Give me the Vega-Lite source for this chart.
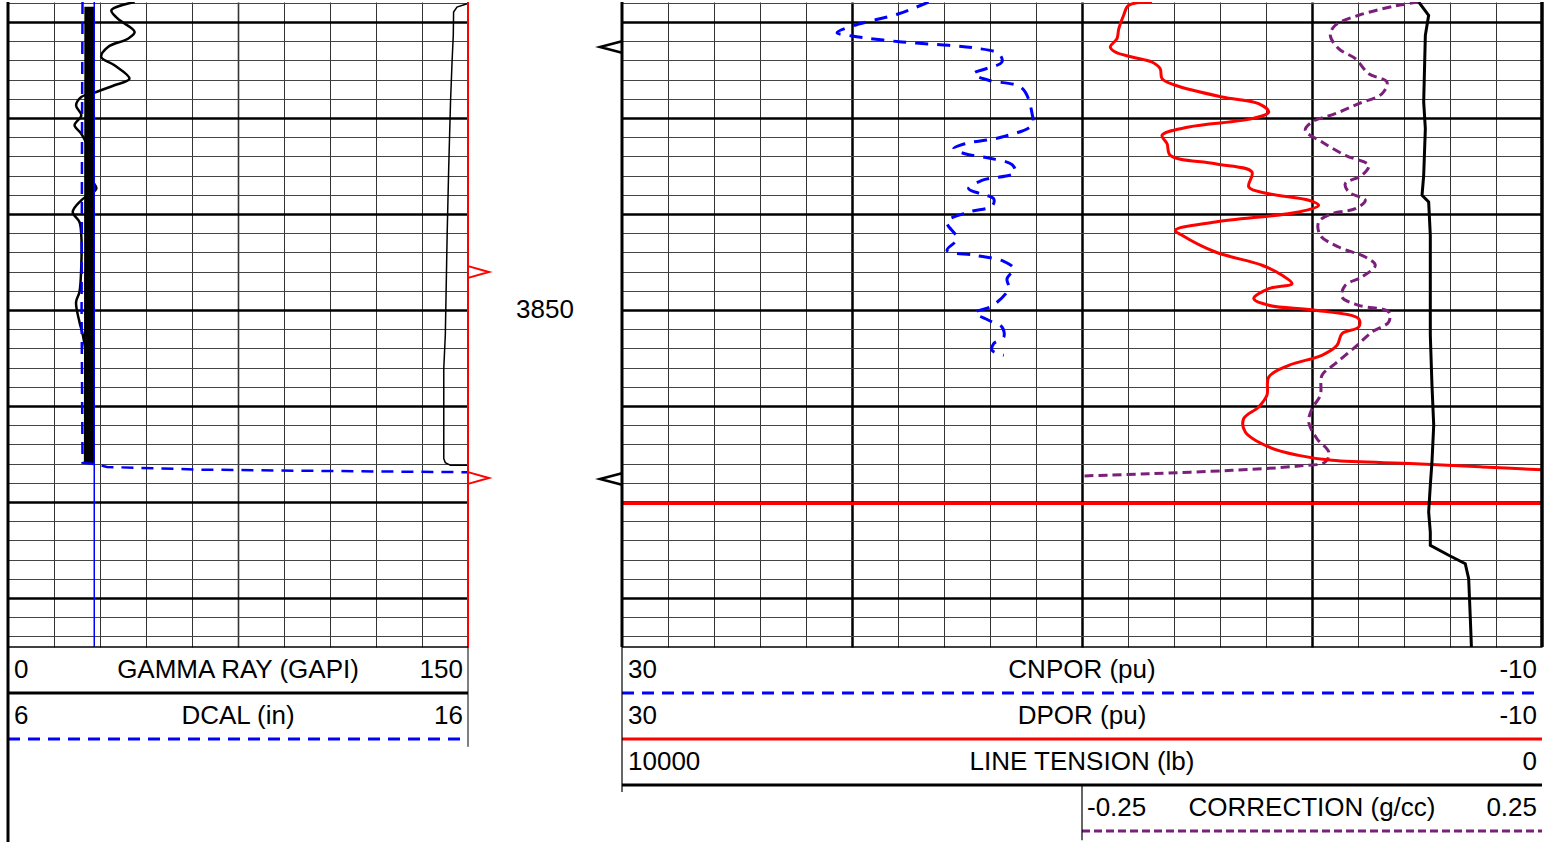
{
  "$schema": "https://vega.github.io/schema/vega-lite/v6.json",
  "padding": {"left": 6, "top": 0, "right": 0, "bottom": 0},
  "background": "white",
  "spacing": 0,
  "columns": 3,
  "bounds": "flush",
  "config": {
    "view": {"stroke": null},
    "axis": {"minExtent": 0},
    "font": "Liberation Sans",
    "text": {"font": "Liberation Sans", "fontSize": 26, "color": "black"}
  },
  "datasets": {
    "gr": [
      {"depth": 3817.92, "gr": 41.3}, {"depth": 3818.78, "gr": 33.7}, {"depth": 3819.66, "gr": 35.8},
      {"depth": 3821.04, "gr": 41.3}, {"depth": 3821.74, "gr": 39.1}, {"depth": 3822.60, "gr": 32.6},
      {"depth": 3823.65, "gr": 30.4}, {"depth": 3824.51, "gr": 34.7}, {"depth": 3825.91, "gr": 39.6},
      {"depth": 3826.59, "gr": 34.7}, {"depth": 3827.29, "gr": 28.8}, {"depth": 3827.81, "gr": 23.9},
      {"depth": 3828.68, "gr": 22.2}, {"depth": 3829.72, "gr": 23.9}, {"depth": 3830.76, "gr": 21.7},
      {"depth": 3831.64, "gr": 23.9}, {"depth": 3833.00, "gr": 26.0}, {"depth": 3834.58, "gr": 26.5},
      {"depth": 3836.50, "gr": 27.5}, {"depth": 3837.36, "gr": 28.8}, {"depth": 3838.57, "gr": 23.9},
      {"depth": 3839.79, "gr": 21.1}, {"depth": 3840.83, "gr": 23.3}, {"depth": 3842.22, "gr": 23.9},
      {"depth": 3845.34, "gr": 23.9}, {"depth": 3848.13, "gr": 23.3}, {"depth": 3849.17, "gr": 22.2},
      {"depth": 3851.25, "gr": 23.3}, {"depth": 3852.60, "gr": 24.4}, {"depth": 3855.00, "gr": 25.5},
      {"depth": 3859.58, "gr": 25.5}, {"depth": 3863.00, "gr": 26.0}, {"depth": 3866.04, "gr": 26.5}
    ],
    "gr2": [
      {"depth": 3818.10, "gr": 149.7}, {"depth": 3818.44, "gr": 146.4}, {"depth": 3818.96, "gr": 145.3},
      {"depth": 3821.39, "gr": 145.2}, {"depth": 3824.17, "gr": 144.8}, {"depth": 3828.33, "gr": 144.3},
      {"depth": 3835.28, "gr": 143.7}, {"depth": 3842.22, "gr": 143.2}, {"depth": 3852.64, "gr": 142.6},
      {"depth": 3856.11, "gr": 142.1}, {"depth": 3865.49, "gr": 142.1}, {"depth": 3865.90, "gr": 142.6},
      {"depth": 3866.18, "gr": 144.3}, {"depth": 3866.18, "gr": 149.8}
    ],
    "dcal": [
      {"depth": 3817.92, "dcal": 7.62}, {"depth": 3830.00, "dcal": 7.61}, {"depth": 3850.00, "dcal": 7.60},
      {"depth": 3865.90, "dcal": 7.62}, {"depth": 3866.05, "dcal": 7.90}, {"depth": 3866.35, "dcal": 8.15},
      {"depth": 3866.63, "dcal": 10.2}, {"depth": 3866.74, "dcal": 12.3}, {"depth": 3866.90, "dcal": 16.0}
    ],
    "fill": [
      {"depth": 3818.40, "dcal": 7.66}, {"depth": 3866.00, "dcal": 7.65}
    ],
    "cnpor": [
      {"depth": 3817.92, "v": 16.67}, {"depth": 3819.14, "v": 17.97}, {"depth": 3820.42, "v": 20.0},
      {"depth": 3821.11, "v": 20.65}, {"depth": 3821.46, "v": 20.0}, {"depth": 3822.08, "v": 17.83},
      {"depth": 3822.43, "v": 15.80}, {"depth": 3822.71, "v": 14.65}, {"depth": 3823.30, "v": 13.62},
      {"depth": 3824.17, "v": 13.48}, {"depth": 3825.39, "v": 14.71}, {"depth": 3826.07, "v": 14.06},
      {"depth": 3826.88, "v": 12.61}, {"depth": 3829.55, "v": 12.17}, {"depth": 3830.73, "v": 12.17},
      {"depth": 3831.98, "v": 13.48}, {"depth": 3832.68, "v": 15.09}, {"depth": 3833.20, "v": 15.58},
      {"depth": 3833.72, "v": 15.09}, {"depth": 3834.17, "v": 14.06}, {"depth": 3834.86, "v": 13.04},
      {"depth": 3835.70, "v": 12.91}, {"depth": 3836.49, "v": 14.35}, {"depth": 3837.36, "v": 14.93},
      {"depth": 3837.89, "v": 14.43}, {"depth": 3838.41, "v": 13.84}, {"depth": 3839.17, "v": 13.91},
      {"depth": 3839.79, "v": 14.93}, {"depth": 3840.83, "v": 15.87}, {"depth": 3842.57, "v": 15.43},
      {"depth": 3843.78, "v": 15.87}, {"depth": 3844.30, "v": 14.65}, {"depth": 3844.93, "v": 13.40},
      {"depth": 3845.70, "v": 12.97}, {"depth": 3846.74, "v": 13.26}, {"depth": 3847.78, "v": 13.19},
      {"depth": 3849.58, "v": 13.91}, {"depth": 3850.28, "v": 14.65}, {"depth": 3851.07, "v": 14.06},
      {"depth": 3851.77, "v": 13.48}, {"depth": 3852.81, "v": 13.40}, {"depth": 3853.51, "v": 13.84},
      {"depth": 3854.20, "v": 13.91}, {"depth": 3854.72, "v": 13.40}
    ],
    "dpor": [
      {"run": 1, "depth": 3817.92, "v": 6.96}, {"run": 1, "depth": 3818.26, "v": 7.97}, {"run": 1, "depth": 3819.30, "v": 8.19},
      {"run": 1, "depth": 3820.70, "v": 8.40}, {"run": 1, "depth": 3821.74, "v": 8.48}, {"run": 1, "depth": 3822.60, "v": 8.77},
      {"run": 1, "depth": 3823.13, "v": 8.55}, {"run": 1, "depth": 3823.65, "v": 7.83}, {"run": 1, "depth": 3824.17, "v": 6.96},
      {"run": 1, "depth": 3824.86, "v": 6.60}, {"run": 1, "depth": 3825.90, "v": 6.52}, {"run": 1, "depth": 3826.59, "v": 5.94},
      {"run": 1, "depth": 3827.81, "v": 3.91}, {"run": 1, "depth": 3828.51, "v": 2.32}, {"run": 1, "depth": 3829.38, "v": 1.88},
      {"run": 1, "depth": 3830.07, "v": 2.61}, {"run": 1, "depth": 3830.94, "v": 5.36}, {"run": 1, "depth": 3831.80, "v": 6.52},
      {"run": 1, "depth": 3832.68, "v": 6.30}, {"run": 1, "depth": 3833.89, "v": 6.16}, {"run": 1, "depth": 3834.76, "v": 4.20},
      {"run": 1, "depth": 3835.63, "v": 2.61}, {"run": 1, "depth": 3837.19, "v": 2.75}, {"run": 1, "depth": 3837.89, "v": 1.88},
      {"run": 1, "depth": 3838.57, "v": 0.14}, {"run": 1, "depth": 3839.09, "v": -0.29}, {"run": 1, "depth": 3839.79, "v": 0.58},
      {"run": 1, "depth": 3840.83, "v": 4.20}, {"run": 1, "depth": 3841.70, "v": 5.94}, {"run": 1, "depth": 3842.22, "v": 5.65},
      {"run": 1, "depth": 3843.96, "v": 4.20}, {"run": 1, "depth": 3845.34, "v": 2.17}, {"run": 1, "depth": 3846.39, "v": 1.30},
      {"run": 1, "depth": 3847.26, "v": 0.87}, {"run": 1, "depth": 3847.78, "v": 1.88}, {"run": 1, "depth": 3848.82, "v": 2.53},
      {"run": 1, "depth": 3849.51, "v": 1.88}, {"run": 1, "depth": 3850.03, "v": -0.14}, {"run": 1, "depth": 3850.91, "v": -2.03},
      {"run": 1, "depth": 3851.77, "v": -2.03}, {"run": 1, "depth": 3852.47, "v": -1.30}, {"run": 1, "depth": 3853.68, "v": -1.09},
      {"run": 1, "depth": 3854.72, "v": -0.43}, {"run": 1, "depth": 3855.76, "v": 1.01}, {"run": 1, "depth": 3856.98, "v": 1.88},
      {"run": 1, "depth": 3858.89, "v": 1.96}, {"run": 1, "depth": 3860.10, "v": 2.32}, {"run": 1, "depth": 3861.32, "v": 2.97},
      {"run": 1, "depth": 3862.71, "v": 2.90}, {"run": 1, "depth": 3864.27, "v": 1.88}, {"run": 1, "depth": 3865.14, "v": 0.58},
      {"run": 1, "depth": 3865.66, "v": -0.87}, {"run": 1, "depth": 3866.01, "v": -4.49}, {"run": 1, "depth": 3866.35, "v": -7.39},
      {"run": 1, "depth": 3866.64, "v": -10.0},
      {"run": 2, "depth": 3870.15, "v": -10.0}, {"run": 2, "depth": 3870.15, "v": 30.0}
    ],
    "corr": [
      {"run": 1, "depth": 3817.92, "c": 0.116}, {"run": 1, "depth": 3818.33, "c": 0.0905}, {"run": 1, "depth": 3819.30, "c": 0.0508},
      {"run": 1, "depth": 3820.34, "c": 0.0253}, {"run": 1, "depth": 3821.39, "c": 0.0199}, {"run": 1, "depth": 3822.78, "c": 0.029},
      {"run": 1, "depth": 3823.82, "c": 0.0471}, {"run": 1, "depth": 3825.39, "c": 0.0616}, {"run": 1, "depth": 3826.25, "c": 0.0815},
      {"run": 1, "depth": 3827.47, "c": 0.0761}, {"run": 1, "depth": 3828.51, "c": 0.0508}, {"run": 1, "depth": 3829.55, "c": 0.0253},
      {"run": 1, "depth": 3830.42, "c": 0.0}, {"run": 1, "depth": 3831.28, "c": -0.0073}, {"run": 1, "depth": 3832.50, "c": 0.0109},
      {"run": 1, "depth": 3833.89, "c": 0.0362}, {"run": 1, "depth": 3834.93, "c": 0.0616}, {"run": 1, "depth": 3835.97, "c": 0.0543},
      {"run": 1, "depth": 3836.84, "c": 0.0362}, {"run": 1, "depth": 3837.71, "c": 0.0399}, {"run": 1, "depth": 3838.57, "c": 0.0579},
      {"run": 1, "depth": 3839.45, "c": 0.0471}, {"run": 1, "depth": 3839.97, "c": 0.0217}, {"run": 1, "depth": 3840.83, "c": 0.0073},
      {"run": 1, "depth": 3842.22, "c": 0.009}, {"run": 1, "depth": 3843.44, "c": 0.029}, {"run": 1, "depth": 3844.48, "c": 0.0579},
      {"run": 1, "depth": 3845.34, "c": 0.0688}, {"run": 1, "depth": 3846.56, "c": 0.0543}, {"run": 1, "depth": 3847.43, "c": 0.0362},
      {"run": 1, "depth": 3848.65, "c": 0.0326}, {"run": 1, "depth": 3849.51, "c": 0.0508}, {"run": 1, "depth": 3850.21, "c": 0.0834},
      {"run": 1, "depth": 3851.25, "c": 0.0834}, {"run": 1, "depth": 3852.29, "c": 0.0652}, {"run": 1, "depth": 3853.85, "c": 0.0471},
      {"run": 1, "depth": 3855.59, "c": 0.0253}, {"run": 1, "depth": 3856.80, "c": 0.0109}, {"run": 1, "depth": 3858.89, "c": 0.009},
      {"run": 1, "depth": 3860.28, "c": 0.0}, {"run": 1, "depth": 3861.67, "c": -0.0036}, {"run": 1, "depth": 3863.41, "c": 0.0054},
      {"run": 1, "depth": 3864.79, "c": 0.0182}, {"run": 1, "depth": 3865.83, "c": 0.0145}, {"run": 1, "depth": 3866.25, "c": -0.0145},
      {"run": 1, "depth": 3866.70, "c": -0.087}, {"run": 1, "depth": 3867.05, "c": -0.1775}, {"run": 1, "depth": 3867.29, "c": -0.25},
      {"run": 2, "depth": 3870.15, "c": -0.25}, {"run": 2, "depth": 3870.15, "c": 0.07}
    ],
    "tension": [
      {"depth": 3817.92, "t": 1340}, {"depth": 3819.30, "t": 1232}, {"depth": 3821.39, "t": 1268},
      {"depth": 3828.33, "t": 1286}, {"depth": 3831.11, "t": 1268}, {"depth": 3835.97, "t": 1286},
      {"depth": 3838.05, "t": 1304}, {"depth": 3838.75, "t": 1232}, {"depth": 3842.22, "t": 1214},
      {"depth": 3852.64, "t": 1214}, {"depth": 3857.84, "t": 1196}, {"depth": 3862.01, "t": 1177},
      {"depth": 3865.83, "t": 1196}, {"depth": 3868.26, "t": 1214}, {"depth": 3871.04, "t": 1232},
      {"depth": 3873.13, "t": 1214}, {"depth": 3874.51, "t": 1214}, {"depth": 3875.55, "t": 1014},
      {"depth": 3876.43, "t": 834}, {"depth": 3877.99, "t": 797}, {"depth": 3882.16, "t": 779},
      {"depth": 3884.93, "t": 768}, {"depth": 3885.10, "t": 768}
    ],
    "redmarks": [{"depth": 3846.04}, {"depth": 3867.5}],
    "blackmarks": [{"depth": 3822.6}, {"depth": 3867.6}],
    "depthlabels": [{"depth": 3850, "label": "3850"}],
    "leftHeader": [
      {"row": 1, "curve": "GR", "lo": "0", "name": "GAMMA RAY (GAPI)", "hi": "150"},
      {"row": 2, "curve": "DCAL", "lo": "6", "name": "DCAL (in)", "hi": "16"}
    ],
    "rightHeader": [
      {"row": 1, "curve": "CNPOR", "lo": "30", "name": "CNPOR (pu)", "hi": "-10"},
      {"row": 2, "curve": "DPOR", "lo": "30", "name": "DPOR (pu)", "hi": "-10"},
      {"row": 3, "curve": "TENSION", "lo": "10000", "name": "LINE TENSION (lb)", "hi": "0"}
    ],
    "corrHeader": [
      {"row": 4, "curve": "CORR", "lo": "-0.25", "name": "CORRECTION (g/cc)", "hi": "0.25"}
    ]
  },
  "concat": [
    {
      "width": 460,
      "height": 645,
      "resolve": {"scale": {"x": "independent"}},
      "layer": [
        {
          "data": {"name": "gr"},
          "mark": {"type": "line", "color": "black", "strokeWidth": 2.5, "clip": true, "interpolate": "catmull-rom"},
          "encoding": {
            "x": {"field": "gr", "type": "quantitative", "scale": {"domain": [0, 150], "nice": false, "zero": false},
              "axis": {"values": [0, 15, 30, 45, 60, 75, 90, 105, 120, 135, 150], "grid": true, "labels": false, "ticks": false, "domain": false, "title": null,
                "gridColor": "#333333", "gridWidth": {"condition": {"test": "datum.value === 75", "value": 1.6}, "value": 1}}},
            "y": {"field": "depth", "type": "quantitative", "scale": {"domain": [3817.917, 3885.104], "nice": false, "zero": false, "reverse": true},
              "axis": {"values": [3818, 3820, 3822, 3824, 3826, 3828, 3830, 3832, 3834, 3836, 3838, 3840, 3842, 3844, 3846, 3848, 3850, 3852, 3854, 3856, 3858, 3860, 3862, 3864, 3866, 3868, 3870, 3872, 3874, 3876, 3878, 3880, 3882, 3884],
                "grid": true, "labels": false, "ticks": false, "domain": false, "title": null,
                "gridColor": {"condition": {"test": "datum.value % 10 === 0", "value": "#000000"}, "value": "#444444"},
                "gridWidth": {"condition": {"test": "datum.value % 10 === 0", "value": 2.5}, "value": 1}}},
            "order": {"value": null}
          }
        },
        {
          "data": {"name": "fill"},
          "mark": {"type": "area", "color": "black", "orient": "horizontal", "clip": true},
          "encoding": {
            "x": {"field": "dcal", "type": "quantitative", "scale": {"domain": [6, 16], "nice": false, "zero": false}, "axis": null},
            "x2": {"datum": 7.875},
            "y": {"field": "depth", "type": "quantitative", "scale": {"domain": [3817.917, 3885.104], "nice": false, "zero": false, "reverse": true},
              "axis": {"values": [3818, 3820, 3822, 3824, 3826, 3828, 3830, 3832, 3834, 3836, 3838, 3840, 3842, 3844, 3846, 3848, 3850, 3852, 3854, 3856, 3858, 3860, 3862, 3864, 3866, 3868, 3870, 3872, 3874, 3876, 3878, 3880, 3882, 3884],
                "grid": true, "labels": false, "ticks": false, "domain": false, "title": null,
                "gridColor": {"condition": {"test": "datum.value % 10 === 0", "value": "#000000"}, "value": "#444444"},
                "gridWidth": {"condition": {"test": "datum.value % 10 === 0", "value": 2.5}, "value": 1}}}
          }
        },
        {
          "data": {"values": [{}]},
          "mark": {"type": "rule", "color": "#0000ff", "strokeWidth": 1.5},
          "encoding": {
            "x": {"datum": 7.875, "type": "quantitative", "scale": {"domain": [6, 16], "nice": false, "zero": false}, "axis": null}
          }
        },
        {
          "data": {"name": "dcal"},
          "mark": {"type": "line", "color": "#0000ff", "strokeWidth": 2.5, "strokeDash": [12, 8], "clip": true},
          "encoding": {
            "x": {"field": "dcal", "type": "quantitative", "scale": {"domain": [6, 16], "nice": false, "zero": false}, "axis": null},
            "y": {"field": "depth", "type": "quantitative", "scale": {"domain": [3817.917, 3885.104], "nice": false, "zero": false, "reverse": true},
              "axis": {"values": [3818, 3820, 3822, 3824, 3826, 3828, 3830, 3832, 3834, 3836, 3838, 3840, 3842, 3844, 3846, 3848, 3850, 3852, 3854, 3856, 3858, 3860, 3862, 3864, 3866, 3868, 3870, 3872, 3874, 3876, 3878, 3880, 3882, 3884],
                "grid": true, "labels": false, "ticks": false, "domain": false, "title": null,
                "gridColor": {"condition": {"test": "datum.value % 10 === 0", "value": "#000000"}, "value": "#444444"},
                "gridWidth": {"condition": {"test": "datum.value % 10 === 0", "value": 2.5}, "value": 1}}},
            "order": {"value": null}
          }
        },
        {
          "data": {"name": "gr2"},
          "mark": {"type": "line", "color": "black", "strokeWidth": 1.5, "clip": true},
          "encoding": {
            "x": {"field": "gr", "type": "quantitative", "scale": {"domain": [0, 150], "nice": false, "zero": false}, "axis": null},
            "y": {"field": "depth", "type": "quantitative", "scale": {"domain": [3817.917, 3885.104], "nice": false, "zero": false, "reverse": true},
              "axis": {"values": [3818, 3820, 3822, 3824, 3826, 3828, 3830, 3832, 3834, 3836, 3838, 3840, 3842, 3844, 3846, 3848, 3850, 3852, 3854, 3856, 3858, 3860, 3862, 3864, 3866, 3868, 3870, 3872, 3874, 3876, 3878, 3880, 3882, 3884],
                "grid": true, "labels": false, "ticks": false, "domain": false, "title": null,
                "gridColor": {"condition": {"test": "datum.value % 10 === 0", "value": "#000000"}, "value": "#444444"},
                "gridWidth": {"condition": {"test": "datum.value % 10 === 0", "value": 2.5}, "value": 1}}},
            "order": {"value": null}
          }
        },
        {
          "data": {"values": [{}]},
          "mark": {"type": "rule", "color": "black", "strokeWidth": 3},
          "encoding": {
            "x": {"datum": 0, "type": "quantitative", "scale": {"domain": [0, 150], "nice": false, "zero": false}, "axis": null}
          }
        },
        {
          "data": {"values": [{}]},
          "mark": {"type": "rule", "color": "#ff0000", "strokeWidth": 2},
          "encoding": {
            "x": {"datum": 150, "type": "quantitative", "scale": {"domain": [0, 150], "nice": false, "zero": false}, "axis": null}
          }
        }
      ]
    },
    {
      "width": 154,
      "height": 645,
      "layer": [
        {
          "data": {"name": "depthlabels"},
          "mark": {"type": "text", "fontSize": 26, "baseline": "middle", "align": "center"},
          "encoding": {
            "x": {"datum": 0.5, "type": "quantitative", "scale": {"domain": [0, 1], "nice": false, "zero": false}, "axis": null},
            "y": {"field": "depth", "type": "quantitative", "scale": {"domain": [3817.917, 3885.104], "nice": false, "zero": false, "reverse": true}, "axis": null},
            "text": {"field": "label"}
          }
        },
        {
          "data": {"name": "redmarks"},
          "mark": {"type": "point", "shape": "M0,-0.28L1,0L0,0.28", "size": 1764, "color": "#ff0000", "strokeWidth": 2, "filled": false, "opacity": 1},
          "encoding": {
            "x": {"datum": 0, "type": "quantitative", "scale": {"domain": [0, 1], "nice": false, "zero": false}, "axis": null},
            "y": {"field": "depth", "type": "quantitative", "scale": {"domain": [3817.917, 3885.104], "nice": false, "zero": false, "reverse": true}, "axis": null}
          }
        },
        {
          "data": {"name": "blackmarks"},
          "mark": {"type": "point", "shape": "M0,-0.26L-1,0L0,0.26", "size": 1936, "color": "black", "strokeWidth": 2.5, "filled": false, "opacity": 1},
          "encoding": {
            "x": {"datum": 1, "type": "quantitative", "scale": {"domain": [0, 1], "nice": false, "zero": false}, "axis": null},
            "y": {"field": "depth", "type": "quantitative", "scale": {"domain": [3817.917, 3885.104], "nice": false, "zero": false, "reverse": true}, "axis": null}
          }
        }
      ]
    },
    {
      "width": 920,
      "height": 645,
      "resolve": {"scale": {"x": "independent"}},
      "layer": [
        {
          "data": {"name": "cnpor"},
          "mark": {"type": "line", "color": "#0000ff", "strokeWidth": 3, "strokeDash": [13, 9], "clip": true, "interpolate": "catmull-rom"},
          "encoding": {
            "x": {"field": "v", "type": "quantitative", "scale": {"domain": [-10, 30], "nice": false, "zero": false, "reverse": true},
              "axis": {"values": [30, 28, 26, 24, 22, 20, 18, 16, 14, 12, 10, 8, 6, 4, 2, 0, -2, -4, -6, -8, -10], "grid": true, "labels": false, "ticks": false, "domain": false, "title": null,
                "gridColor": {"condition": {"test": "datum.value === 20 || datum.value === 10 || datum.value === 0", "value": "#000000"}, "value": "#333333"},
                "gridWidth": {"condition": {"test": "datum.value === 20 || datum.value === 10 || datum.value === 0", "value": 2.5}, "value": 1}}},
            "y": {"field": "depth", "type": "quantitative", "scale": {"domain": [3817.917, 3885.104], "nice": false, "zero": false, "reverse": true},
              "axis": {"values": [3818, 3820, 3822, 3824, 3826, 3828, 3830, 3832, 3834, 3836, 3838, 3840, 3842, 3844, 3846, 3848, 3850, 3852, 3854, 3856, 3858, 3860, 3862, 3864, 3866, 3868, 3870, 3872, 3874, 3876, 3878, 3880, 3882, 3884],
                "grid": true, "labels": false, "ticks": false, "domain": false, "title": null,
                "gridColor": {"condition": {"test": "datum.value % 10 === 0", "value": "#000000"}, "value": "#444444"},
                "gridWidth": {"condition": {"test": "datum.value % 10 === 0", "value": 2.5}, "value": 1}}},
            "order": {"value": null}
          }
        },
        {
          "data": {"name": "corr"},
          "mark": {"type": "line", "color": "#7a1f7a", "strokeWidth": 3, "strokeDash": [9, 5], "clip": true, "interpolate": "catmull-rom"},
          "encoding": {
            "x": {"field": "c", "type": "quantitative", "scale": {"domain": [-0.75, 0.25], "nice": false, "zero": false}, "axis": null},
            "y": {"field": "depth", "type": "quantitative", "scale": {"domain": [3817.917, 3885.104], "nice": false, "zero": false, "reverse": true},
              "axis": {"values": [3818, 3820, 3822, 3824, 3826, 3828, 3830, 3832, 3834, 3836, 3838, 3840, 3842, 3844, 3846, 3848, 3850, 3852, 3854, 3856, 3858, 3860, 3862, 3864, 3866, 3868, 3870, 3872, 3874, 3876, 3878, 3880, 3882, 3884],
                "grid": true, "labels": false, "ticks": false, "domain": false, "title": null,
                "gridColor": {"condition": {"test": "datum.value % 10 === 0", "value": "#000000"}, "value": "#444444"},
                "gridWidth": {"condition": {"test": "datum.value % 10 === 0", "value": 2.5}, "value": 1}}},
            "detail": {"field": "run", "type": "nominal"},
            "order": {"value": null}
          }
        },
        {
          "data": {"name": "dpor"},
          "mark": {"type": "line", "color": "#ff0000", "strokeWidth": 3, "clip": true, "interpolate": "catmull-rom"},
          "encoding": {
            "x": {"field": "v", "type": "quantitative", "scale": {"domain": [-10, 30], "nice": false, "zero": false, "reverse": true}, "axis": null},
            "y": {"field": "depth", "type": "quantitative", "scale": {"domain": [3817.917, 3885.104], "nice": false, "zero": false, "reverse": true},
              "axis": {"values": [3818, 3820, 3822, 3824, 3826, 3828, 3830, 3832, 3834, 3836, 3838, 3840, 3842, 3844, 3846, 3848, 3850, 3852, 3854, 3856, 3858, 3860, 3862, 3864, 3866, 3868, 3870, 3872, 3874, 3876, 3878, 3880, 3882, 3884],
                "grid": true, "labels": false, "ticks": false, "domain": false, "title": null,
                "gridColor": {"condition": {"test": "datum.value % 10 === 0", "value": "#000000"}, "value": "#444444"},
                "gridWidth": {"condition": {"test": "datum.value % 10 === 0", "value": 2.5}, "value": 1}}},
            "detail": {"field": "run", "type": "nominal"},
            "order": {"value": null}
          }
        },
        {
          "data": {"name": "tension"},
          "mark": {"type": "line", "color": "black", "strokeWidth": 3, "clip": true},
          "encoding": {
            "x": {"field": "t", "type": "quantitative", "scale": {"domain": [0, 10000], "nice": false, "zero": false, "reverse": true}, "axis": null},
            "y": {"field": "depth", "type": "quantitative", "scale": {"domain": [3817.917, 3885.104], "nice": false, "zero": false, "reverse": true},
              "axis": {"values": [3818, 3820, 3822, 3824, 3826, 3828, 3830, 3832, 3834, 3836, 3838, 3840, 3842, 3844, 3846, 3848, 3850, 3852, 3854, 3856, 3858, 3860, 3862, 3864, 3866, 3868, 3870, 3872, 3874, 3876, 3878, 3880, 3882, 3884],
                "grid": true, "labels": false, "ticks": false, "domain": false, "title": null,
                "gridColor": {"condition": {"test": "datum.value % 10 === 0", "value": "#000000"}, "value": "#444444"},
                "gridWidth": {"condition": {"test": "datum.value % 10 === 0", "value": 2.5}, "value": 1}}},
            "order": {"value": null}
          }
        },
        {
          "data": {"values": [{}]},
          "mark": {"type": "rule", "color": "black", "strokeWidth": 3},
          "encoding": {
            "x": {"datum": 30, "type": "quantitative", "scale": {"domain": [-10, 30], "nice": false, "zero": false, "reverse": true}, "axis": null}
          }
        },
        {
          "data": {"values": [{}]},
          "mark": {"type": "rule", "color": "black", "strokeWidth": 3.5},
          "encoding": {
            "x": {"datum": -10, "type": "quantitative", "scale": {"domain": [-10, 30], "nice": false, "zero": false, "reverse": true}, "axis": null}
          }
        }
      ]
    },
    {
      "width": 460,
      "height": 197,
      "layer": [
        {
          "data": {"name": "leftHeader"},
          "mark": {"type": "rule", "strokeWidth": 3, "yOffset": 23},
          "encoding": {
            "x": {"datum": 0, "type": "quantitative", "scale": {"domain": [0, 1], "nice": false, "zero": false}, "axis": null},
            "x2": {"datum": 1},
            "y": {"field": "row", "type": "quantitative", "scale": {"domain": [0.5, 4.7826], "nice": false, "zero": false, "reverse": true}, "axis": null},
            "color": {"field": "curve", "type": "nominal", "scale": {"domain": ["GR", "DCAL", "CNPOR", "DPOR", "TENSION"], "range": ["#000000", "#0000ff", "#0000ff", "#ff0000", "#000000"]}, "legend": null},
            "strokeDash": {"field": "curve", "type": "nominal", "scale": {"domain": ["GR", "DCAL", "CNPOR", "DPOR", "TENSION"], "range": [[1, 0], [12, 8], [12, 8], [1, 0], [1, 0]]}, "legend": null}
          }
        },
        {
          "data": {"values": [{}]},
          "mark": {"type": "rule", "color": "black", "strokeWidth": 1.5},
          "encoding": {
            "x": {"datum": 0, "type": "quantitative", "axis": null},
            "x2": {"datum": 1},
            "y": {"datum": 0.5, "type": "quantitative", "axis": null}
          }
        },
        {
          "data": {"name": "leftHeader"},
          "mark": {"type": "text", "align": "left", "baseline": "middle", "dx": 6, "fontSize": 26},
          "encoding": {
            "x": {"datum": 0, "type": "quantitative", "axis": null},
            "y": {"field": "row", "type": "quantitative", "axis": null},
            "text": {"field": "lo"}
          }
        },
        {
          "data": {"name": "leftHeader"},
          "mark": {"type": "text", "align": "center", "baseline": "middle", "fontSize": 26},
          "encoding": {
            "x": {"datum": 0.5, "type": "quantitative", "axis": null},
            "y": {"field": "row", "type": "quantitative", "axis": null},
            "text": {"field": "name"}
          }
        },
        {
          "data": {"name": "leftHeader"},
          "mark": {"type": "text", "align": "right", "baseline": "middle", "dx": -5, "fontSize": 26},
          "encoding": {
            "x": {"datum": 1, "type": "quantitative", "axis": null},
            "y": {"field": "row", "type": "quantitative", "axis": null},
            "text": {"field": "hi"}
          }
        },
        {
          "data": {"values": [{}]},
          "mark": {"type": "rule", "color": "black", "strokeWidth": 3},
          "encoding": {
            "x": {"datum": 0, "type": "quantitative", "axis": null}
          }
        },
        {
          "data": {"values": [{}]},
          "mark": {"type": "rule", "color": "black", "strokeWidth": 1},
          "encoding": {
            "x": {"datum": 1, "type": "quantitative", "axis": null},
            "y": {"datum": 0.5, "type": "quantitative", "axis": null},
            "y2": {"datum": 2.67}
          }
        }
      ]
    },
    {
      "width": 154,
      "height": 197,
      "data": {"values": [{}]},
      "mark": {"type": "text", "text": ""},
      "encoding": {}
    },
    {
      "width": 920,
      "height": 197,
      "layer": [
        {
          "data": {"name": "rightHeader"},
          "mark": {"type": "rule", "strokeWidth": 3, "yOffset": 23},
          "encoding": {
            "x": {"datum": 0, "type": "quantitative", "scale": {"domain": [0, 1], "nice": false, "zero": false}, "axis": null},
            "x2": {"datum": 1},
            "y": {"field": "row", "type": "quantitative", "scale": {"domain": [0.5, 4.7826], "nice": false, "zero": false, "reverse": true}, "axis": null},
            "color": {"field": "curve", "type": "nominal", "scale": {"domain": ["GR", "DCAL", "CNPOR", "DPOR", "TENSION"], "range": ["#000000", "#0000ff", "#0000ff", "#ff0000", "#000000"]}, "legend": null},
            "strokeDash": {"field": "curve", "type": "nominal", "scale": {"domain": ["GR", "DCAL", "CNPOR", "DPOR", "TENSION"], "range": [[1, 0], [12, 8], [12, 8], [1, 0], [1, 0]]}, "legend": null}
          }
        },
        {
          "data": {"name": "corrHeader"},
          "mark": {"type": "rule", "strokeWidth": 3, "yOffset": 23, "color": "#7a1f7a", "strokeDash": [8, 4]},
          "encoding": {
            "x": {"datum": 0.5, "type": "quantitative", "axis": null},
            "x2": {"datum": 1},
            "y": {"field": "row", "type": "quantitative", "axis": null}
          }
        },
        {
          "data": {"values": [{}]},
          "mark": {"type": "rule", "color": "black", "strokeWidth": 1.5},
          "encoding": {
            "x": {"datum": 0, "type": "quantitative", "axis": null},
            "x2": {"datum": 1},
            "y": {"datum": 0.5, "type": "quantitative", "axis": null}
          }
        },
        {
          "data": {"name": "rightHeader"},
          "mark": {"type": "text", "align": "left", "baseline": "middle", "dx": 6, "fontSize": 26},
          "encoding": {
            "x": {"datum": 0, "type": "quantitative", "axis": null},
            "y": {"field": "row", "type": "quantitative", "axis": null},
            "text": {"field": "lo"}
          }
        },
        {
          "data": {"name": "rightHeader"},
          "mark": {"type": "text", "align": "center", "baseline": "middle", "fontSize": 26},
          "encoding": {
            "x": {"datum": 0.5, "type": "quantitative", "axis": null},
            "y": {"field": "row", "type": "quantitative", "axis": null},
            "text": {"field": "name"}
          }
        },
        {
          "data": {"name": "rightHeader"},
          "mark": {"type": "text", "align": "right", "baseline": "middle", "dx": -5, "fontSize": 26},
          "encoding": {
            "x": {"datum": 1, "type": "quantitative", "axis": null},
            "y": {"field": "row", "type": "quantitative", "axis": null},
            "text": {"field": "hi"}
          }
        },
        {
          "data": {"name": "corrHeader"},
          "mark": {"type": "text", "align": "left", "baseline": "middle", "dx": 5, "fontSize": 26},
          "encoding": {
            "x": {"datum": 0.5, "type": "quantitative", "axis": null},
            "y": {"field": "row", "type": "quantitative", "axis": null},
            "text": {"field": "lo"}
          }
        },
        {
          "data": {"name": "corrHeader"},
          "mark": {"type": "text", "align": "center", "baseline": "middle", "fontSize": 26},
          "encoding": {
            "x": {"datum": 0.75, "type": "quantitative", "axis": null},
            "y": {"field": "row", "type": "quantitative", "axis": null},
            "text": {"field": "name"}
          }
        },
        {
          "data": {"name": "corrHeader"},
          "mark": {"type": "text", "align": "right", "baseline": "middle", "dx": -5, "fontSize": 26},
          "encoding": {
            "x": {"datum": 1, "type": "quantitative", "axis": null},
            "y": {"field": "row", "type": "quantitative", "axis": null},
            "text": {"field": "hi"}
          }
        },
        {
          "data": {"values": [{}]},
          "mark": {"type": "rule", "color": "black", "strokeWidth": 1.2},
          "encoding": {
            "x": {"datum": 0, "type": "quantitative", "axis": null},
            "y": {"datum": 0.5, "type": "quantitative", "axis": null},
            "y2": {"datum": 3.65}
          }
        },
        {
          "data": {"values": [{}]},
          "mark": {"type": "rule", "color": "black", "strokeWidth": 1.2},
          "encoding": {
            "x": {"datum": 0.5, "type": "quantitative", "axis": null},
            "y": {"datum": 3.5, "type": "quantitative", "axis": null},
            "y2": {"datum": 4.7}
          }
        }
      ]
    }
  ]
}
